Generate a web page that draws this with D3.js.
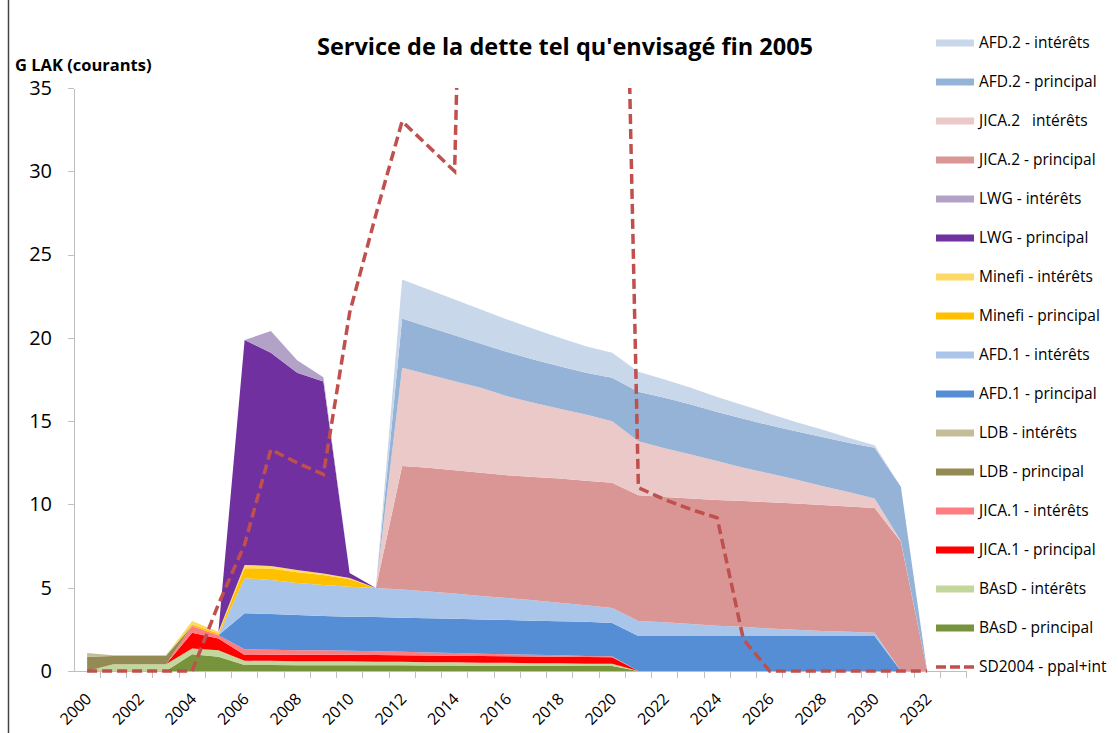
<!DOCTYPE html>
<meta charset="utf-8">
<style>
body { margin: 0; background: #fff; }
svg, svg text { font-family: "Open Sans", Lato, sans-serif; }
.axis path, .axis line { stroke: #bfbfbf; shape-rendering: crispEdges; }
.axis text { fill: #000; font-family: "Open Sans", sans-serif; }
.legend text { font-size: 15.5px; fill: #000; white-space: pre; }
</style>
<body>
<script src="https://cdn.jsdelivr.net/npm/d3@7/dist/d3.min.js"></script>
<script>

// categories
var years = [2000, 2001, 2002, 2003, 2004, 2005, 2006, 2007, 2008, 2009,
             2010, 2011, 2012, 2013, 2014, 2015, 2016, 2017, 2018, 2019,
             2020, 2021, 2022, 2023, 2024, 2025, 2026, 2027, 2028, 2029,
             2030, 2031, 2032, 2033];

// stacked series, bottom to top (G LAK)
var basdP   = [0, 0, 0, 0, 1.0, 0.85, 0.36, 0.36, 0.35, 0.35, 0.35, 0.34, 0.34, 0.33, 0.33, 0.32, 0.32, 0.31, 0.31, 0.30, 0.30,
               0, 0, 0, 0, 0, 0, 0, 0, 0, 0, 0, 0, 0];
var basdI   = [0, 0.4, 0.4, 0.4, 0.35, 0.4, 0.26, 0.25, 0.24, 0.24, 0.23, 0.22, 0.21, 0.20, 0.19, 0.18, 0.17, 0.16, 0.15, 0.14, 0.13,
               0, 0, 0, 0, 0, 0, 0, 0, 0, 0, 0, 0, 0];
var jica1P  = [0, 0, 0, 0, 0.95, 0.7, 0.34, 0.36, 0.38, 0.39, 0.4, 0.4, 0.4, 0.4, 0.4, 0.4, 0.4, 0.4, 0.4, 0.4, 0.4,
               0, 0, 0, 0, 0, 0, 0, 0, 0, 0, 0, 0, 0];
var jica1I  = [0, 0, 0, 0, 0.4, 0.2, 0.34, 0.30, 0.28, 0.26, 0.24, 0.22, 0.20, 0.18, 0.16, 0.14, 0.12, 0.10, 0.08, 0.06, 0.05,
               0, 0, 0, 0, 0, 0, 0, 0, 0, 0, 0, 0, 0];
var ldbP    = [0.86, 0.5, 0.5, 0.5, 0, 0, 0, 0, 0, 0, 0, 0, 0, 0, 0, 0, 0, 0, 0, 0, 0,
               0, 0, 0, 0, 0, 0, 0, 0, 0, 0, 0, 0, 0];
var ldbI    = [0.22, 0.05, 0.05, 0.05, 0, 0, 0, 0, 0, 0, 0, 0, 0, 0, 0, 0, 0, 0, 0, 0, 0,
               0, 0, 0, 0, 0, 0, 0, 0, 0, 0, 0, 0, 0];
var afd1P   = [0, 0, 0, 0, 0, 0, 2.17, 2.15, 2.11, 2.06, 2.04, 2.06, 2.05, 2.05, 2.05, 2.05, 2.05, 2.05, 2.05, 2.05, 2.0,
               2.1, 2.1, 2.1, 2.1, 2.1, 2.1, 2.1, 2.1, 2.1, 2.1, 0, 0, 0];
var afd1I   = [0, 0, 0, 0, 0, 0, 2.1, 2.04, 1.92, 1.86, 1.8, 1.74, 1.7, 1.62, 1.52, 1.41, 1.32, 1.22, 1.11, 1.0, 0.9,
               0.9, 0.82, 0.72, 0.62, 0.55, 0.45, 0.38, 0.3, 0.25, 0.2, 0, 0, 0];
var minefiP = [0, 0, 0, 0, 0.1, 0.1, 0.6, 0.7, 0.65, 0.6, 0.45, 0, 0, 0, 0, 0, 0, 0, 0, 0, 0,
               0, 0, 0, 0, 0, 0, 0, 0, 0, 0, 0, 0, 0];
var minefiI = [0, 0, 0, 0, 0.2, 0.1, 0.2, 0.15, 0.13, 0.1, 0.08, 0, 0, 0, 0, 0, 0, 0, 0, 0, 0,
               0, 0, 0, 0, 0, 0, 0, 0, 0, 0, 0, 0, 0];
var lwgP    = [0, 0, 0, 0, 0, 0, 13.5, 12.8, 11.84, 11.52, 0.3, 0, 0, 0, 0, 0, 0, 0, 0, 0, 0,
               0, 0, 0, 0, 0, 0, 0, 0, 0, 0, 0, 0, 0];
var lwgI    = [0, 0, 0, 0, 0, 0, 0, 1.3, 0.76, 0.25, 0, 0, 0, 0, 0, 0, 0, 0, 0, 0, 0,
               0, 0, 0, 0, 0, 0, 0, 0, 0, 0, 0, 0, 0];
var jica2P  = [0, 0, 0, 0, 0, 0, 0, 0, 0, 0, 0, 0, 7.4, 7.42, 7.4, 7.4, 7.37, 7.41, 7.45, 7.47, 7.52,
               7.55, 7.53, 7.53, 7.55, 7.55, 7.58, 7.57, 7.57, 7.53, 7.48, 7.76, 0, 0];
var jica2I  = [0, 0, 0, 0, 0, 0, 0, 0, 0, 0, 0, 0, 5.9, 5.6, 5.35, 5.1, 4.75, 4.45, 4.2, 3.98, 3.7,
               3.25, 2.93, 2.65, 2.33, 2.0, 1.72, 1.45, 1.13, 0.87, 0.58, 0.05, 0, 0];
var afd2P   = [0, 0, 0, 0, 0, 0, 0, 0, 0, 0, 0, 0, 2.96, 2.85, 2.75, 2.65, 2.65, 2.6, 2.55, 2.5, 2.6,
               2.96, 3.02, 3.0, 2.95, 2.95, 2.9, 2.9, 2.95, 2.95, 3.04, 3.25, 0, 0];
var afd2I   = [0, 0, 0, 0, 0, 0, 0, 0, 0, 0, 0, 0, 2.34, 2.25, 2.15, 2.05, 1.95, 1.85, 1.7, 1.6, 1.5,
               1.2, 1.1, 1.0, 0.9, 0.8, 0.7, 0.55, 0.45, 0.3, 0.16, 0, 0, 0];

// dashed line, 2000-2032 (runs far above the axis 2015-2020)
var sd2004  = [0, 0, 0, 0, 0, 4.0, 7.6, 13.3, 12.5, 11.8, 21.5, 27.4, 33.0, 31.5, 30.0,
               95, 92, 90, 88, 86, 84, 11.0, 10.3, 9.7, 9.2, 1.9, 0, 0, 0, 0, 0, 0, 0];

var yTicks = [0, 5, 10, 15, 20, 25, 30, 35];

var series = [
  {key: "BAsD - principal",    values: basdP,   color: "#77933c"},
  {key: "BAsD - intérêts",     values: basdI,   color: "#c3d69b"},
  {key: "JICA.1 - principal",  values: jica1P,  color: "#ff0000"},
  {key: "JICA.1 - intérêts",   values: jica1I,  color: "#ff7c80"},
  {key: "LDB - principal",     values: ldbP,    color: "#948a54"},
  {key: "LDB - intérêts",      values: ldbI,    color: "#c4bd97"},
  {key: "AFD.1 - principal",   values: afd1P,   color: "#558ed5"},
  {key: "AFD.1 - intérêts",    values: afd1I,   color: "#a9c6ea"},
  {key: "Minefi - principal",  values: minefiP, color: "#ffc000"},
  {key: "Minefi - intérêts",   values: minefiI, color: "#ffd966"},
  {key: "LWG - principal",     values: lwgP,    color: "#7030a0"},
  {key: "LWG - intérêts",      values: lwgI,    color: "#b3a2c7"},
  {key: "JICA.2 - principal",  values: jica2P,  color: "#d99694"},
  {key: "JICA.2   intérêts",   values: jica2I,  color: "#ebc9c8"},
  {key: "AFD.2 - principal",   values: afd2P,   color: "#95b3d7"},
  {key: "AFD.2 - intérêts",    values: afd2I,   color: "#c9d7ea"}
];

var W = 1118, H = 733;
var plot = {left: 74, right: 966.5, top: 88, bottom: 671};

var svg = d3.select("body").append("svg")
    .attr("width", W)
    .attr("height", H);

// outer border on the left edge
svg.append("line")
    .attr("x1", 8.5).attr("x2", 8.5)
    .attr("y1", 0).attr("y2", H)
    .attr("stroke", "#444")
    .attr("stroke-width", 1.5);

var x = d3.scaleBand()
    .domain(years)
    .range([plot.left, plot.right])
    .paddingInner(0).paddingOuter(0);
var bw = x.bandwidth();
function cx(yr) { return x(yr) + bw / 2; }

var y = d3.scaleLinear()
    .domain([0, 35])
    .range([plot.bottom, plot.top]);

// build the table for d3.stack
var rows = years.map(function(yr, i) {
  var r = {year: yr};
  series.forEach(function(s) { r[s.key] = s.values[i]; });
  return r;
});

var stacked = d3.stack().keys(series.map(function(s) { return s.key; }))(rows);

var area = d3.area()
    .x(function(d) { return cx(d.data.year); })
    .y0(function(d) { return y(d[0]); })
    .y1(function(d) { return y(d[1]); });

svg.append("g").selectAll("path")
    .data(stacked)
  .enter().append("path")
    .attr("d", area)
    .attr("fill", function(d, i) { return series[i].color; });

// y axis
var yAxis = svg.append("g")
    .attr("class", "axis")
    .attr("transform", "translate(" + plot.left + ",0)")
    .call(d3.axisLeft(y).tickValues(yTicks).tickSize(6).tickPadding(16).tickSizeOuter(0));
yAxis.attr("font-family", null).attr("font-size", null);
yAxis.selectAll("text").style("font-size", "20px");

// x axis: ticks between categories, labels every 2 years
var xAxis = svg.append("g").attr("class", "axis");
xAxis.append("line")
    .attr("x1", plot.left).attr("x2", plot.right)
    .attr("y1", plot.bottom + 0.5).attr("y2", plot.bottom + 0.5);
xAxis.selectAll(".tk")
    .data(years.slice(1).concat(["end"]))
  .enter().append("line")
    .attr("class", "tk")
    .attr("x1", function(d) { return d === "end" ? plot.right : x(d); })
    .attr("x2", function(d) { return d === "end" ? plot.right : x(d); })
    .attr("y1", plot.bottom)
    .attr("y2", plot.bottom + 7);
xAxis.selectAll(".lbl")
    .data(years.filter(function(d) { return d % 2 === 0; }))
  .enter().append("text")
    .attr("class", "lbl")
    .attr("transform", function(d) {
      return "translate(" + (cx(d) + 1.5) + "," + (plot.bottom + 25) + ") rotate(-45)";
    })
    .attr("text-anchor", "end")
    .attr("dy", "0.35em")
    .style("font-size", "16px")
    .text(function(d) { return d; });

// dashed SD2004 line, clipped to the plot area
svg.append("clipPath").attr("id", "clip")
  .append("rect")
    .attr("x", plot.left).attr("y", plot.top)
    .attr("width", W - plot.left).attr("height", plot.bottom - plot.top + 4);

var line = d3.line()
    .x(function(d, i) { return cx(years[i]); })
    .y(function(d) { return y(d); });

svg.append("path")
    .datum(sd2004)
    .attr("clip-path", "url(#clip)")
    .attr("d", line)
    .attr("fill", "none")
    .attr("stroke", "#c0504d")
    .attr("stroke-width", 3.5)
    .attr("stroke-dasharray", "10,5");

// titles
svg.append("text")
    .attr("x", 565)
    .attr("y", 55)
    .attr("text-anchor", "middle")
    .style("font-size", "23.5px")
    .style("font-weight", "bold")
    .text("Service de la dette tel qu'envisagé fin 2005");

svg.append("text")
    .attr("x", 15)
    .attr("y", 71)
    .style("font-size", "16.5px")
    .style("font-weight", "bold")
    .text("G LAK (courants)");

// legend (reverse order of the stack, dashed line last)
var legendItems = series.slice().reverse().concat([{key: "SD2004 - ppal+int", dashed: true, color: "#c0504d"}]);

var legend = svg.append("g")
    .attr("class", "legend")
  .selectAll("g")
    .data(legendItems)
  .enter().append("g")
    .attr("transform", function(d, i) { return "translate(936," + (43 + i * 39) + ")"; });

legend.filter(function(d) { return !d.dashed; })
  .append("rect")
    .attr("x", 0).attr("y", -3.5)
    .attr("width", 38).attr("height", 7)
    .attr("fill", function(d) { return d.color; });

legend.filter(function(d) { return d.dashed; })
  .append("line")
    .attr("x1", 0).attr("x2", 38)
    .attr("y1", 0).attr("y2", 0)
    .attr("stroke", function(d) { return d.color; })
    .attr("stroke-width", 3.5)
    .attr("stroke-dasharray", "10,4");

legend.append("text")
    .attr("x", 43)
    .attr("y", 0)
    .attr("dy", "0.35em")
    .text(function(d) { return d.key; });

</script>
</body>
